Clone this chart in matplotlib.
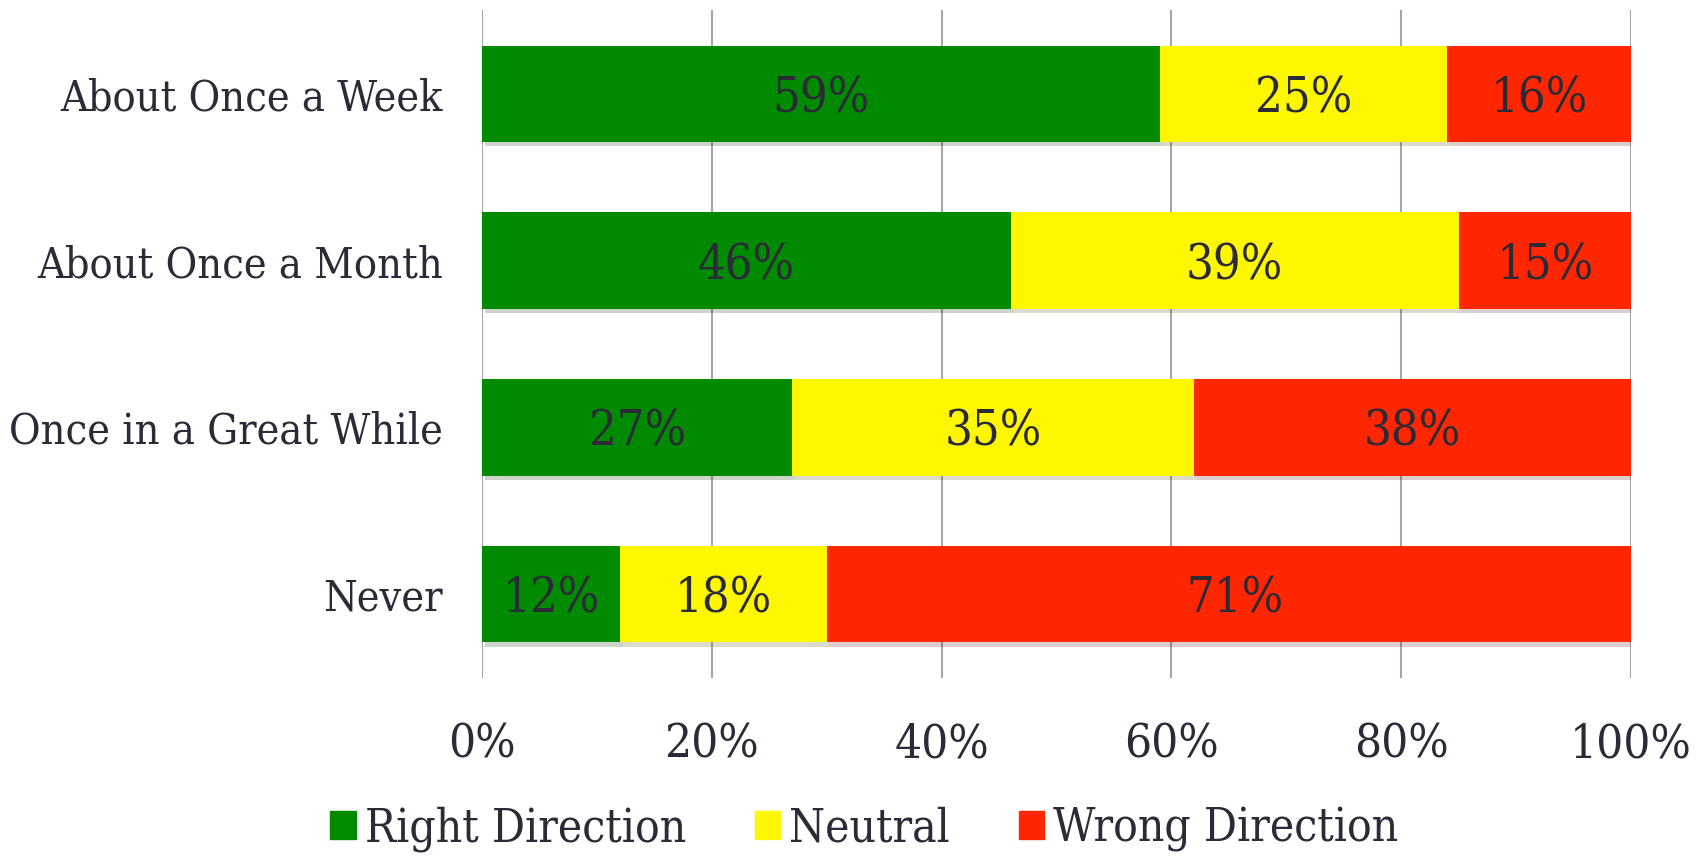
import matplotlib
matplotlib.use("Agg")
import matplotlib.pyplot as plt
import matplotlib.patheffects as pe
from matplotlib.patches import Patch
import numpy as np

categories = ["About Once a Week", "About Once a Month", "Once in a Great While", "Never"]
right_dir = [59, 46, 27, 12]
neutral = [25, 39, 35, 18]
wrong_dir = [16, 15, 38, 71]
series_names = ["Right Direction", "Neutral", "Wrong Direction"]
colors = ["#008a00", "#fff700", "#ff2600"]
text_color = "#2b2b38"

plt.rcParams["font.family"] = ["DejaVu Serif"]
plt.rcParams["font.stretch"] = "condensed"

fig = plt.figure(figsize=(17.05, 8.57), dpi=100)
ax = fig.add_axes([0.2827, 0.2089, 0.9566 - 0.2827, 0.9883 - 0.2089])

y = np.arange(len(categories))
left = np.zeros(len(categories))
shadow = [pe.SimplePatchShadow(offset=(2, -3), alpha=0.2), pe.Normal()]
for vals, name, col in zip([right_dir, neutral, wrong_dir], series_names, colors):
    bars = ax.barh(y, vals, left=left, height=0.575, color=col,
                   zorder=3, path_effects=shadow)
    for b, v in zip(bars, vals):
        ax.text(b.get_x() + b.get_width() / 2, b.get_y() + b.get_height() / 2,
                f"{v}%", ha="center", va="center_baseline", fontsize=35,
                color=text_color, zorder=4)
    left += np.array(vals)

ax.set_xlim(0, 100)
ax.set_ylim(len(categories) - 0.5, -0.5)
ax.set_yticks(y)
ax.set_yticklabels(categories, fontsize=31, color=text_color)
ax.set_xticks(np.arange(0, 101, 20))
ax.set_xticklabels([f"{t}%" for t in range(0, 101, 20)], fontsize=34, color=text_color)
ax.tick_params(axis="y", length=0, pad=28)
ax.tick_params(axis="x", length=0, pad=32)
ax.grid(axis="x", color="#a6a6a6", linewidth=1.5, zorder=0)
for s in ax.spines.values():
    s.set_visible(False)

handles = [Patch(color=c, label=n) for c, n in zip(colors, series_names)]
fig.legend(handles=handles, loc="center", bbox_to_anchor=(0.507, 0.033), ncol=3,
           frameon=False, fontsize=33, labelcolor=text_color, handlelength=0.55,
           handleheight=0.55, handletextpad=0.2, columnspacing=1.5)

fig.savefig("out.png", dpi=100)
